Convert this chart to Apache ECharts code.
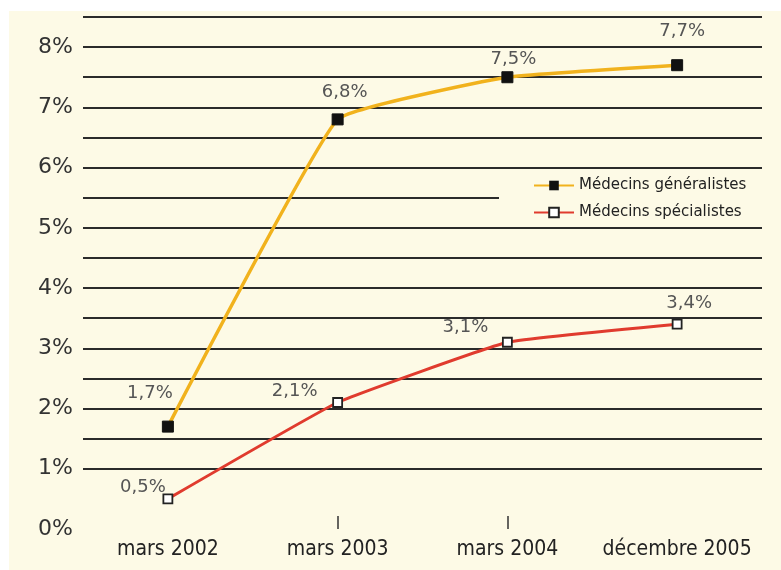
<!DOCTYPE html>
<html>
<head>
<meta charset="utf-8">
<script src="https://cdn.jsdelivr.net/npm/echarts@6/dist/echarts.min.js"></script>
<style>
  html, body { margin: 0; padding: 0; background: #ffffff; }
  #panel { position: absolute; left: 9px; top: 11px; width: 772px; height: 559px; background: #fdfae6; }
  #chart { position: absolute; left: 0; top: 0; width: 781px; height: 570px; }
</style>
</head>
<body>
<div id="panel"></div>
<div id="chart"></div>
<script>
// Periods on the horizontal axis
const periods = ['mars 2002', 'mars 2003', 'mars 2004', 'décembre 2005'];
// Share of physicians (%) for each period
const generalistes = [1.7, 6.8, 7.5, 7.7];
const specialistes = [0.5, 2.1, 3.1, 3.4];
// Series names
const nameGen = 'Médecins généralistes';
const nameSpe = 'Médecins spécialistes';

// Label placement around each point
const genLabelOffsets = [[-18, -33], [7, -27], [6, -18], [5, -34]];
const speLabelOffsets = [[-25, -12], [-43, -11], [-42, -15], [12, -21]];

const bg = '#fdfae6';
const gridColor = '#2b2b2b';

function fmtPct(v) {
  return String(v).replace('.', ',') + '%';
}

function withLabels(values, offsets) {
  return values.map((v, i) => ({
    value: v,
    label: { offset: offsets[i] }
  }));
}

// Split lines: none at 0% and 0.5%, then one every half point up to 8.5%
const splitColors = [];
for (let i = 0; i <= 17; i++) splitColors.push(i < 2 ? 'rgba(0,0,0,0)' : gridColor);

const labelStyle = {
  show: true,
  position: 'inside',
  formatter: p => fmtPct(p.value),
  fontFamily: 'DejaVu Sans',
  fontSize: 18,
  color: '#555'
};

const chart = echarts.init(document.getElementById('chart'), null, { renderer: 'canvas' });
chart.setOption({
  backgroundColor: 'transparent',
  animation: false,
  grid: { left: 83, right: 19, top: 17, bottom: 41 },
  xAxis: {
    type: 'category',
    data: periods,
    boundaryGap: true,
    axisLine: { show: false },
    axisTick: {
      show: true,
      inside: true,
      length: 13,
      alignWithLabel: true,
      interval: (idx) => idx === 1 || idx === 2,
      lineStyle: { color: '#333', width: 1.5 }
    },
    axisLabel: {
      interval: 0,
      margin: 10,
      fontFamily: 'DejaVu Sans Condensed',
      fontSize: 21,
      color: '#222'
    }
  },
  yAxis: {
    type: 'value',
    min: 0,
    max: 8.5,
    interval: 0.5,
    axisLine: { show: false },
    axisTick: { show: false },
    axisLabel: {
      margin: 10,
      fontFamily: 'DejaVu Sans',
      fontSize: 22,
      color: '#333',
      formatter: v => (Math.abs(v - Math.round(v)) < 1e-9 ? Math.round(v) + '%' : '')
    },
    splitLine: { show: true, lineStyle: { color: splitColors, width: 2 } }
  },
  legend: {
    orient: 'vertical',
    left: 528,
    top: 173,
    itemWidth: 40,
    itemHeight: 12,
    itemGap: 12,
    z: 10,
    textStyle: { fontFamily: 'DejaVu Sans', fontSize: 15, color: '#222' },
    data: [nameGen, nameSpe]
  },
  graphic: [{
    type: 'rect',
    z: 1,
    shape: { x: 499, y: 186, width: 264, height: 22 },
    style: { fill: bg }
  }],
  series: [
    {
      name: nameGen,
      type: 'line',
      z: 3,
      smooth: 0.1,
      data: withLabels(generalistes, genLabelOffsets),
      lineStyle: { color: '#f1b21d', width: 3.5 },
      itemStyle: { color: '#111', borderColor: '#111' },
      symbol: 'rect',
      symbolSize: 11,
      label: labelStyle
    },
    {
      name: nameSpe,
      type: 'line',
      z: 3,
      smooth: 0.1,
      data: withLabels(specialistes, speLabelOffsets),
      lineStyle: { color: '#e03b2e', width: 3 },
      itemStyle: { color: '#ffffff', borderColor: '#222', borderWidth: 1.8 },
      symbol: 'rect',
      symbolSize: 9,
      label: labelStyle
    }
  ]
});
</script>
</body>
</html>
